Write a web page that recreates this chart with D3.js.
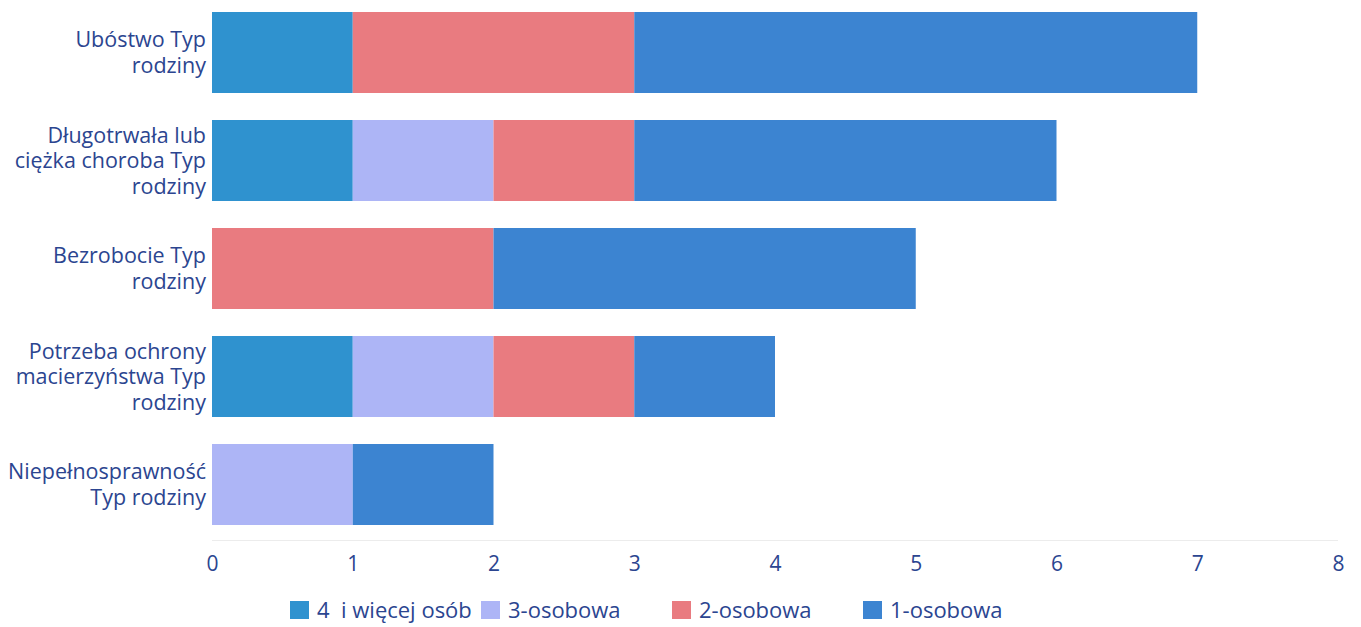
<!DOCTYPE html>
<html>
<head>
<meta charset="utf-8">
<script src="https://cdn.jsdelivr.net/npm/d3@7"></script>
<style>
  html, body { margin: 0; padding: 0; background: #ffffff; }
  svg { display: block; font-family: "Open Sans", "Noto Sans", sans-serif; }
</style>
</head>
<body>
<svg id="chart" width="1361" height="627"></svg>
<script>
// ---- data ----
const categories = [
  "Ubóstwo Typ rodziny",
  "Długotrwała lub ciężka choroba Typ rodziny",
  "Bezrobocie Typ rodziny",
  "Potrzeba ochrony macierzyństwa Typ rodziny",
  "Niepełnosprawność Typ rodziny"
];
const categoryLines = [
  ["Ubóstwo Typ", "rodziny"],
  ["Długotrwała lub", "ciężka choroba Typ", "rodziny"],
  ["Bezrobocie Typ", "rodziny"],
  ["Potrzeba ochrony", "macierzyństwa Typ", "rodziny"],
  ["Niepełnosprawność", "Typ rodziny"]
];
const seriesNames = ["4  i więcej osób", "3-osobowa", "2-osobowa", "1-osobowa"];
const fourPlus   = [1, 1, 0, 1, 0];
const threePers  = [0, 1, 0, 1, 1];
const twoPers    = [2, 1, 2, 1, 0];
const onePers    = [4, 3, 3, 1, 1];
const xTicks = [0, 1, 2, 3, 4, 5, 6, 7, 8];
const seriesColors = ["#2f92cf", "#adb5f6", "#e97b80", "#3c84d1"];

// ---- build ----
const seriesValues = [fourPlus, threePers, twoPers, onePers];
const table = categories.map((c, i) => {
  const row = { cat: c };
  seriesNames.forEach((s, k) => row[s] = seriesValues[k][i]);
  return row;
});
const stacked = d3.stack().keys(seriesNames)(table);

const svg = d3.select("#chart");
const textColor = "#2b4590";

const x = d3.scaleLinear().domain([0, 8]).range([212, 1338]);
const y = d3.scaleBand().domain(categories).range([-1.5, 538.5])
  .paddingInner(0.25).paddingOuter(0.125);

// gridline at baseline
svg.append("line")
  .attr("x1", x(0)).attr("x2", x(8))
  .attr("y1", 540.5).attr("y2", 540.5)
  .attr("stroke", "#ececec").attr("stroke-width", 1);

// category labels (drawn before bars so bars overlap overflowing text)
const lineH = 25.5;
const labelG = svg.append("g");
categories.forEach((c, i) => {
  const lines = categoryLines[i];
  const cy = y(c) + y.bandwidth() / 2;
  const t = labelG.append("text")
    .attr("x", 206)
    .attr("text-anchor", "end")
    .attr("fill", textColor)
    .attr("font-size", 21.5);
  lines.forEach((ln, j) => {
    t.append("tspan")
      .attr("x", 206)
      .attr("y", cy + (j - (lines.length - 1) / 2) * lineH)
      .attr("dy", "0.35em")
      .text(ln);
  });
});

// bars
svg.append("g")
  .selectAll("g")
  .data(stacked)
  .join("g")
  .attr("fill", (d, i) => seriesColors[i])
  .selectAll("rect")
  .data(d => d)
  .join("rect")
  .attr("x", d => x(d[0]))
  .attr("y", d => y(d.data.cat))
  .attr("width", d => x(d[1]) - x(d[0]))
  .attr("height", y.bandwidth());

// x axis
const xAxis = d3.axisBottom(x).tickValues(xTicks).tickFormat(d3.format("d")).tickSize(0).tickPadding(0);
const ax = svg.append("g").attr("transform", "translate(0,564)").call(xAxis);
ax.select(".domain").remove();
ax.selectAll("text")
  .attr("fill", textColor)
  .attr("font-size", 21)
  .attr("font-family", "'Open Sans', sans-serif")
  .attr("dy", "0.35em")
  .attr("y", 0);

// legend
const legend = svg.append("g").attr("transform", "translate(290,610)");
const item = legend.selectAll("g").data(seriesNames).join("g")
  .attr("transform", (d, i) => `translate(${i * 191},0)`);
item.append("rect")
  .attr("x", 0).attr("y", -9).attr("width", 19).attr("height", 18)
  .attr("fill", (d, i) => seriesColors[i]);
item.append("text")
  .attr("x", 27).attr("y", 0).attr("dy", "0.35em")
  .attr("fill", textColor).attr("font-size", 22)
  .attr("xml:space", "preserve")
  .style("white-space", "pre")
  .text(d => d);
</script>
</body>
</html>
